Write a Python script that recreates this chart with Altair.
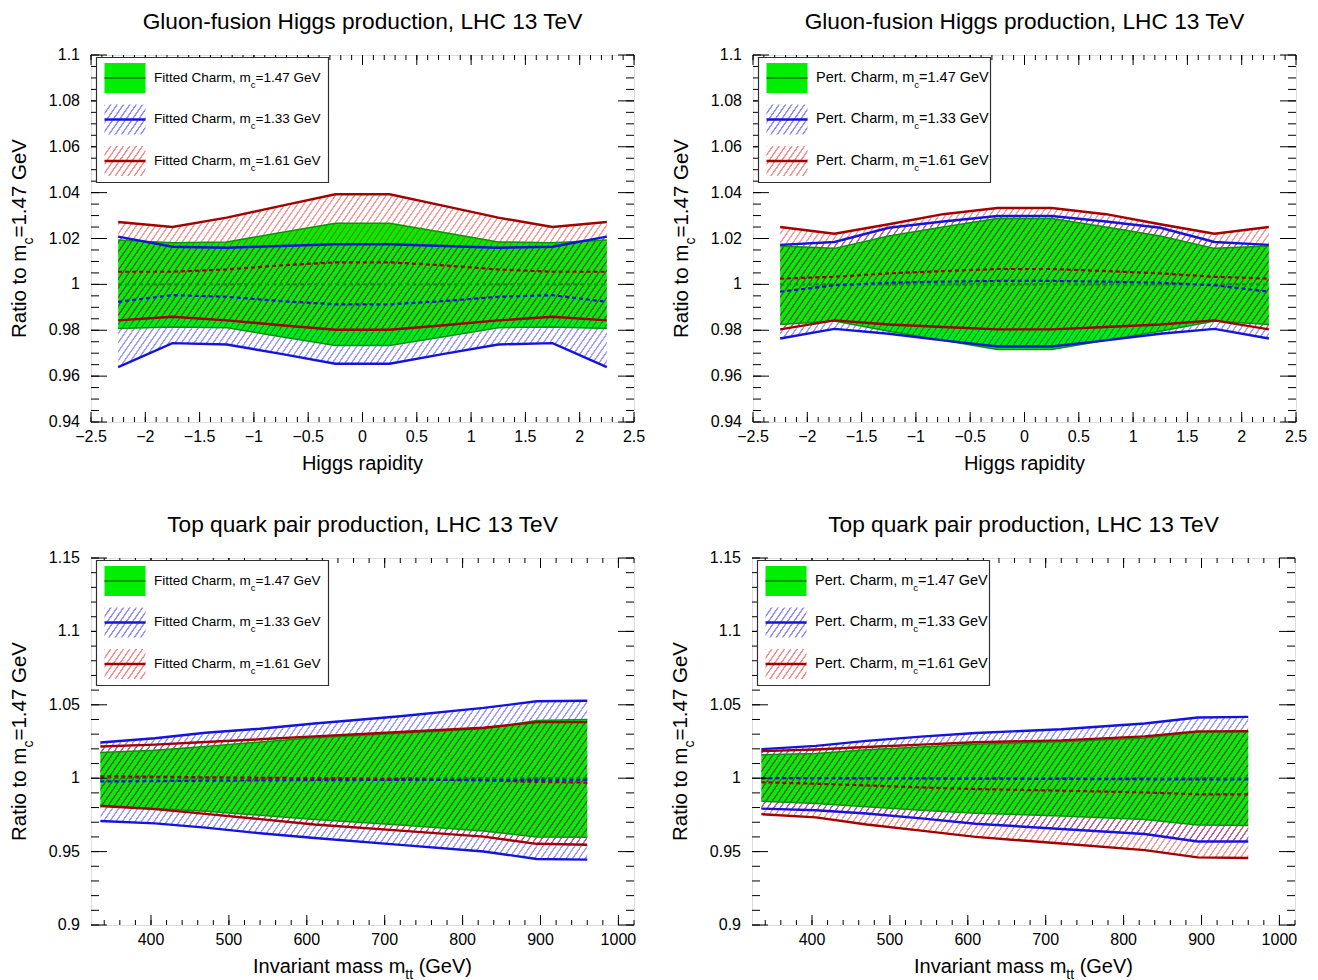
import math
import altair as alt
import pandas as pd

FONT = "Liberation Sans"
W, H = 543, 367

GREEN = "#00ee00"
GREEN_EDGE = "#0b940b"
BLUE = "#1414dc"
RED = "#a30000"
BLUE_HATCH = "0,0,255"
RED_HATCH = "235,0,0"

# ---------------- data: Higgs rapidity distributions ----------------
rapidity = [-2.25, -1.75, -1.25, -0.75, -0.25, 0.25, 0.75, 1.25, 1.75, 2.25]

hf_green_hi = [1.0194, 1.0182, 1.0185, 1.0226, 1.0266, 1.0266, 1.0226, 1.0185, 1.0182, 1.0194]
hf_green_lo = [0.9808, 0.9814, 0.9811, 0.9772, 0.9734, 0.9734, 0.9772, 0.9811, 0.9814, 0.9808]
hf_green_mid = [1.0, 1.0, 1.0, 1.0, 1.0, 1.0, 1.0, 1.0, 1.0, 1.0]
hf_blue_hi = [1.0208, 1.0164, 1.0160, 1.0167, 1.0175, 1.0175, 1.0167, 1.0160, 1.0164, 1.0208]
hf_blue_mid = [0.9924, 0.9953, 0.9946, 0.9927, 0.9913, 0.9913, 0.9927, 0.9946, 0.9953, 0.9924]
hf_blue_lo = [0.9639, 0.9744, 0.9738, 0.9697, 0.9654, 0.9654, 0.9697, 0.9738, 0.9744, 0.9639]
hf_red_hi = [1.0272, 1.0250, 1.0291, 1.0342, 1.0393, 1.0393, 1.0342, 1.0291, 1.0250, 1.0272]
hf_red_mid = [1.0055, 1.0055, 1.0065, 1.0083, 1.0096, 1.0096, 1.0083, 1.0065, 1.0055, 1.0055]
hf_red_lo = [0.9843, 0.9859, 0.9843, 0.9822, 0.9802, 0.9802, 0.9822, 0.9843, 0.9859, 0.9843]

hp_green_hi = [1.0167, 1.0157, 1.0211, 1.0250, 1.0287, 1.0287, 1.0250, 1.0211, 1.0157, 1.0167]
hp_green_lo = [0.9825, 0.9840, 0.9796, 0.9756, 0.9716, 0.9716, 0.9756, 0.9796, 0.9840, 0.9825]
hp_green_mid = [1.0, 1.0, 1.0, 1.0, 1.0, 1.0, 1.0, 1.0, 1.0, 1.0]
hp_blue_hi = [1.0172, 1.0185, 1.0247, 1.0274, 1.0298, 1.0298, 1.0274, 1.0247, 1.0185, 1.0172]
hp_blue_mid = [0.9968, 0.9996, 1.0007, 1.0012, 1.0015, 1.0015, 1.0012, 1.0007, 0.9996, 0.9968]
hp_blue_lo = [0.9764, 0.9806, 0.9785, 0.9756, 0.9729, 0.9729, 0.9756, 0.9785, 0.9806, 0.9764]
hp_red_hi = [1.0250, 1.0221, 1.0262, 1.0306, 1.0333, 1.0333, 1.0306, 1.0262, 1.0221, 1.0250]
hp_red_mid = [1.0025, 1.0033, 1.0048, 1.0058, 1.0067, 1.0067, 1.0058, 1.0048, 1.0033, 1.0025]
hp_red_lo = [0.9804, 0.9843, 0.9825, 0.9814, 0.9804, 0.9804, 0.9814, 0.9825, 0.9843, 0.9804]

# ---------------- data: top-quark pair invariant mass ----------------
mtt = [335, 405, 470, 540, 610, 720, 827, 895, 960]

tf_green_hi = [1.0175, 1.0191, 1.0216, 1.0247, 1.0276, 1.0306, 1.0337, 1.0393, 1.0400]
tf_green_lo = [0.9816, 0.9793, 0.9775, 0.9748, 0.9719, 0.9681, 0.9640, 0.9600, 0.9598]
tf_green_mid = [1.0, 1.0, 1.0, 1.0, 1.0, 1.0, 1.0, 1.0, 1.0]
tf_blue_hi = [1.0243, 1.0272, 1.0310, 1.0337, 1.0373, 1.0422, 1.0479, 1.0524, 1.0528]
tf_blue_mid = [0.9978, 0.9980, 0.9983, 0.9985, 0.9987, 0.9988, 0.9989, 0.9989, 0.9989]
tf_blue_lo = [0.9708, 0.9692, 0.9663, 0.9625, 0.9593, 0.9546, 0.9501, 0.9450, 0.9445]
tf_red_hi = [1.0216, 1.0229, 1.0247, 1.0265, 1.0285, 1.0315, 1.0344, 1.0382, 1.0382]
tf_red_mid = [1.0013, 1.0010, 1.0006, 1.0003, 1.0000, 0.9993, 0.9985, 0.9975, 0.9970]
tf_red_lo = [0.9811, 0.9789, 0.9757, 0.9721, 0.9685, 0.9643, 0.9602, 0.9553, 0.9547]

tp_green_hi = [1.0160, 1.0169, 1.0193, 1.0213, 1.0231, 1.0249, 1.0274, 1.0315, 1.0317]
tp_green_lo = [0.9843, 0.9827, 0.9805, 0.9782, 0.9762, 0.9742, 0.9719, 0.9681, 0.9677]
tp_green_mid = [1.0, 1.0, 1.0, 1.0, 1.0, 1.0, 1.0, 1.0, 1.0]
tp_blue_hi = [1.0198, 1.0220, 1.0254, 1.0283, 1.0308, 1.0333, 1.0373, 1.0413, 1.0418]
tp_blue_mid = [1.0000, 1.0000, 0.9999, 0.9998, 0.9997, 0.9995, 0.9993, 0.9991, 0.9991]
tp_blue_lo = [0.9793, 0.9782, 0.9760, 0.9726, 0.9690, 0.9654, 0.9620, 0.9569, 0.9569]
tp_red_hi = [1.0184, 1.0196, 1.0213, 1.0229, 1.0245, 1.0258, 1.0285, 1.0319, 1.0321]
tp_red_mid = [0.9973, 0.9962, 0.9951, 0.9937, 0.9926, 0.9915, 0.9903, 0.9890, 0.9890]
tp_red_lo = [0.9755, 0.9733, 0.9685, 0.9643, 0.9600, 0.9555, 0.9510, 0.9461, 0.9456]

# axis ranges and tick labels
rap_domain = [-2.5, 2.5]
rap_major = [-2.5, -2.0, -1.5, -1.0, -0.5, 0.0, 0.5, 1.0, 1.5, 2.0, 2.5]
higgs_ydomain = [0.94, 1.1]
higgs_ymajor = [0.94, 0.96, 0.98, 1.0, 1.02, 1.04, 1.06, 1.08, 1.1]
mtt_domain = [323, 1020]
mtt_major = [400, 500, 600, 700, 800, 900, 1000]
top_ydomain = [0.9, 1.15]
top_ymajor = [0.9, 0.95, 1.0, 1.05, 1.1, 1.15]

legend_masses = ["=1.47 GeV", "=1.33 GeV", "=1.61 GeV"]

# Arial / Liberation Sans advance widths (1/1000 em), for placing subscripts
AW = {' ': 278, ',': 278, '.': 278, '=': 584, '(': 333, ')': 333, '-': 333,
      'C': 722, 'F': 611, 'G': 778, 'H': 722, 'I': 278, 'L': 556, 'P': 667,
      'R': 722, 'T': 611, 'V': 667, 'a': 556, 'c': 500, 'd': 556, 'e': 556,
      'f': 278, 'g': 556, 'h': 556, 'i': 222, 'l': 222, 'm': 833, 'n': 556,
      'o': 556, 'p': 556, 'r': 333, 's': 500, 't': 278, 'u': 556, 'v': 500,
      'y': 500}


def text_w(s, fs):
    return sum(AW.get(ch, 556) for ch in s) * fs / 1000.0


def minor_ticks(lo, hi, step):
    start = math.ceil(lo / step - 1e-9)
    stop = math.floor(hi / step + 1e-9)
    return [round(i * step, 6) for i in range(start, stop + 1)]


# ---------------- hatch fill built from a striped linear gradient ----------------
THETA = math.radians(55)
SPACING = 5.2


def hatch(rgb, alpha, X0, Y0, w, h, lw=1.0, soft=0.4):
    s, c = math.sin(THETA), math.cos(THETA)
    dmax = w * s + h * c
    k = dmax / (w * w * s * s + h * h * c * c)
    g = X0 * s + Y0 * c
    clear = f"rgba({rgb},0)"
    ink = f"rgba({rgb},{alpha})"
    stops = []
    last = 0.0
    n0 = math.floor(g / SPACING) - 1
    n1 = math.ceil((g + dmax) / SPACING) + 1
    for n in range(n0, n1 + 1):
        cpos = n * SPACING - g
        for d, col in ((cpos - lw / 2 - soft, clear), (cpos - lw / 2, ink),
                       (cpos + lw / 2, ink), (cpos + lw / 2 + soft, clear)):
            t = min(max(d / dmax, 0.0), 1.0)
            t = max(t, last)
            stops.append({"offset": round(t, 6), "color": col})
            last = t
    return {"gradient": "linear", "x1": 0, "y1": 0,
            "x2": k * w * s, "y2": k * h * c, "stops": stops}


def one():
    return alt.Data(values=[{"k": 0}])


def text_pieces(pre, sub, post, fs, sfs, ax, ay, angle, sub_dy):
    """Main text with a subscript, joined at the anchor point (ax, ay)."""
    out = []
    kw = dict(font=FONT, fontSize=fs, baseline="alphabetic", color="black")
    if angle:
        kw["angle"] = angle
    out.append(alt.Chart(one()).mark_text(text=pre, align="right", **kw)
               .encode(x=alt.value(ax), y=alt.value(ay)))
    if sub:
        kws = dict(kw)
        kws["fontSize"] = sfs
        out.append(alt.Chart(one()).mark_text(text=sub, align="left", dy=sub_dy, **kws)
                   .encode(x=alt.value(ax), y=alt.value(ay)))
    if post:
        # a leading space would be collapsed by SVG, so turn it into an offset
        lead = len(post) - len(post.lstrip(" "))
        shift = text_w(sub, sfs) + lead * text_w(" ", fs)
        out.append(alt.Chart(one()).mark_text(text=post.lstrip(" "), align="left",
                                              dx=shift, **kw)
                   .encode(x=alt.value(ax), y=alt.value(ay)))
    return out


def panel(xs, g_hi, g_lo, g_mid, b_hi, b_mid, b_lo, r_hi, r_mid, r_lo,
          xdom, ydom, xmajor, xminor_step, ymajor, yminor_step,
          title, xtitle, prefix, leg_fs):
    df = pd.DataFrame({"x": xs, "g_hi": g_hi, "g_lo": g_lo, "g_mid": g_mid,
                       "b_hi": b_hi, "b_mid": b_mid, "b_lo": b_lo,
                       "r_hi": r_hi, "r_mid": r_mid, "r_lo": r_lo})
    xs_ = alt.Scale(domain=xdom, nice=False, zero=False)
    ys_ = alt.Scale(domain=ydom, nice=False, zero=False)

    def xpx(v):
        return (v - xdom[0]) / (xdom[1] - xdom[0]) * W

    def ypx(v):
        return (ydom[1] - v) / (ydom[1] - ydom[0]) * H

    base = alt.Chart(df)
    X = alt.X("x:Q", scale=xs_, axis=None)
    layers = []
    layers.append(base.mark_area(color=GREEN).encode(
        x=X, y=alt.Y("g_hi:Q", scale=ys_, axis=None, stack=None), y2="g_lo:Q"))

    def band_bbox(hi, lo):
        X0, X1 = xpx(min(xs)), xpx(max(xs))
        Y0, Y1 = ypx(max(hi)), ypx(min(lo))
        return X0, Y0, X1 - X0, Y1 - Y0

    for hi, lo, rgb, a in (("b_hi", "b_lo", BLUE_HATCH, 0.4), ("r_hi", "r_lo", RED_HATCH, 0.4)):
        X0, Y0, w, h = band_bbox(df[hi].tolist(), df[lo].tolist())
        layers.append(base.mark_area(color=hatch(rgb, a, X0, Y0, w, h)).encode(
            x=X, y=alt.Y(f"{hi}:Q", scale=ys_, axis=None, stack=None), y2=f"{lo}:Q"))

    for col, colour, width in (("g_hi", GREEN_EDGE, 1.5), ("g_lo", GREEN_EDGE, 1.5),
                               ("b_hi", BLUE, 2.4), ("b_lo", BLUE, 2.4),
                               ("r_hi", RED, 2.4), ("r_lo", RED, 2.4)):
        layers.append(base.mark_line(color=colour, strokeWidth=width).encode(
            x=X, y=alt.Y(f"{col}:Q", scale=ys_, axis=None)))
    for col, colour in (("g_mid", GREEN_EDGE), ("r_mid", RED), ("b_mid", BLUE)):
        layers.append(base.mark_line(color=colour, strokeWidth=2.2, strokeDash=[4, 3]).encode(
            x=X, y=alt.Y(f"{col}:Q", scale=ys_, axis=None)))

    # inward ticks on all four sides
    tx_maj = pd.DataFrame({"v": xmajor})
    tx_min = pd.DataFrame({"v": minor_ticks(xdom[0], xdom[1], xminor_step)})
    ty_maj = pd.DataFrame({"v": ymajor})
    ty_min = pd.DataFrame({"v": minor_ticks(ydom[0], ydom[1], yminor_step)})
    for d, ln in ((tx_maj, 10), (tx_min, 5)):
        tx = alt.X("v:Q", scale=xs_, axis=None)
        layers.append(alt.Chart(d).mark_rule(color="black", strokeWidth=1).encode(
            x=tx, y=alt.value(H - ln), y2=alt.value(H)))
        layers.append(alt.Chart(d).mark_rule(color="black", strokeWidth=1).encode(
            x=tx, y=alt.value(0), y2=alt.value(ln)))
    for d, ln in ((ty_maj, 16), (ty_min, 8)):
        ty = alt.Y("v:Q", scale=ys_, axis=None)
        layers.append(alt.Chart(d).mark_rule(color="black", strokeWidth=1).encode(
            y=ty, x=alt.value(0), x2=alt.value(ln)))
        layers.append(alt.Chart(d).mark_rule(color="black", strokeWidth=1).encode(
            y=ty, x=alt.value(W - ln), x2=alt.value(W)))

    # tick labels
    layers.append(alt.Chart(tx_maj).mark_text(
        font=FONT, fontSize=16, color="black", align="center", baseline="top").encode(
        x=alt.X("v:Q", scale=xs_, axis=None), y=alt.value(H + 7),
        text=alt.Text("v:Q", format="~g")))
    layers.append(alt.Chart(ty_maj).mark_text(
        font=FONT, fontSize=16, color="black", align="right", baseline="middle").encode(
        y=alt.Y("v:Q", scale=ys_, axis=None), x=alt.value(-11),
        text=alt.Text("v:Q", format="~g")))

    # legend box
    layers.append(alt.Chart(one()).mark_rect(fill="white", stroke="#303030", strokeWidth=1.2)
                  .encode(x=alt.value(5.5), x2=alt.value(237.5),
                          y=alt.value(2.5), y2=alt.value(127.5)))
    sw_x0, sw_x1 = 13.5, 54.5
    rows = [(8.0, GREEN, GREEN_EDGE, None), (49.5, None, BLUE, BLUE_HATCH),
            (91.0, None, RED, RED_HATCH)]
    for (top, fillc, linec, hrgb), mass in zip(rows, legend_masses):
        if fillc:
            fill = fillc
        else:
            fill = hatch(hrgb, 0.45, 0, 0, sw_x1 - sw_x0, 30)
        layers.append(alt.Chart(one()).mark_rect(color=fill).encode(
            x=alt.value(sw_x0), x2=alt.value(sw_x1), y=alt.value(top), y2=alt.value(top + 30)))
        layers.append(alt.Chart(one()).mark_rule(
            color=linec, strokeWidth=2.6 if hrgb else 2.0).encode(
            x=alt.value(sw_x0), x2=alt.value(sw_x1), y=alt.value(top + 15)))
        ax = 63 + text_w(prefix, leg_fs)
        layers += text_pieces(prefix, "c", mass, leg_fs, 9.5, ax, top + 18.5, 0, 6)

    # axis titles with subscripts
    ypre, ysub, ypost = "Ratio to m", "c", "=1.47 GeV"
    wpre, wsub, wpost = text_w(ypre, 20.5), text_w(ysub, 14), text_w(ypost, 20.5)
    ay = H / 2 - (wpre - wsub - wpost) / 2
    layers += text_pieces(ypre, ysub, ypost, 20.5, 14, -65, ay, 270, 7)
    xpre, xsub, xpost = xtitle
    wpre, wsub, wpost = text_w(xpre, 20), text_w(xsub, 14), text_w(xpost, 20)
    axx = W / 2 + (wpre - wsub - wpost) / 2
    layers += text_pieces(xpre, xsub, xpost, 20, 14, axx, H + 48, 0, 6)

    return alt.layer(*layers).properties(
        width=W, height=H,
        title=alt.TitleParams(title, font=FONT, fontSize=22.7, fontWeight="normal",
                              color="black", anchor="middle", offset=13))


p1 = panel(rapidity, hf_green_hi, hf_green_lo, hf_green_mid, hf_blue_hi, hf_blue_mid, hf_blue_lo,
           hf_red_hi, hf_red_mid, hf_red_lo, rap_domain, higgs_ydomain, rap_major, 0.1,
           higgs_ymajor, 0.005, "Gluon-fusion Higgs production, LHC 13 TeV",
           ("Higgs rapidity", "", ""), "Fitted Charm, m", 13.5)
p2 = panel(rapidity, hp_green_hi, hp_green_lo, hp_green_mid, hp_blue_hi, hp_blue_mid, hp_blue_lo,
           hp_red_hi, hp_red_mid, hp_red_lo, rap_domain, higgs_ydomain, rap_major, 0.1,
           higgs_ymajor, 0.005, "Gluon-fusion Higgs production, LHC 13 TeV",
           ("Higgs rapidity", "", ""), "Pert. Charm, m", 14.5)
p3 = panel(mtt, tf_green_hi, tf_green_lo, tf_green_mid, tf_blue_hi, tf_blue_mid, tf_blue_lo,
           tf_red_hi, tf_red_mid, tf_red_lo, mtt_domain, top_ydomain, mtt_major, 20,
           top_ymajor, 0.01, "Top quark pair production, LHC 13 TeV",
           ("Invariant mass m", "tt", " (GeV)"), "Fitted Charm, m", 13.5)
p4 = panel(mtt, tp_green_hi, tp_green_lo, tp_green_mid, tp_blue_hi, tp_blue_mid, tp_blue_lo,
           tp_red_hi, tp_red_mid, tp_red_lo, mtt_domain, top_ydomain, mtt_major, 20,
           top_ymajor, 0.01, "Top quark pair production, LHC 13 TeV",
           ("Invariant mass m", "tt", " (GeV)"), "Pert. Charm, m", 14.5)

chart = alt.vconcat(
    alt.hconcat(p1, p2, spacing=25),
    alt.hconcat(p3, p4, spacing=33),
    spacing=38,
).properties(
    padding={"left": 9, "top": 10, "right": 0, "bottom": 3},
    background="white",
).configure_view(stroke="black", strokeWidth=1).configure(font=FONT)

chart.save("out.html", embed_options={"renderer": "svg", "actions": False})
